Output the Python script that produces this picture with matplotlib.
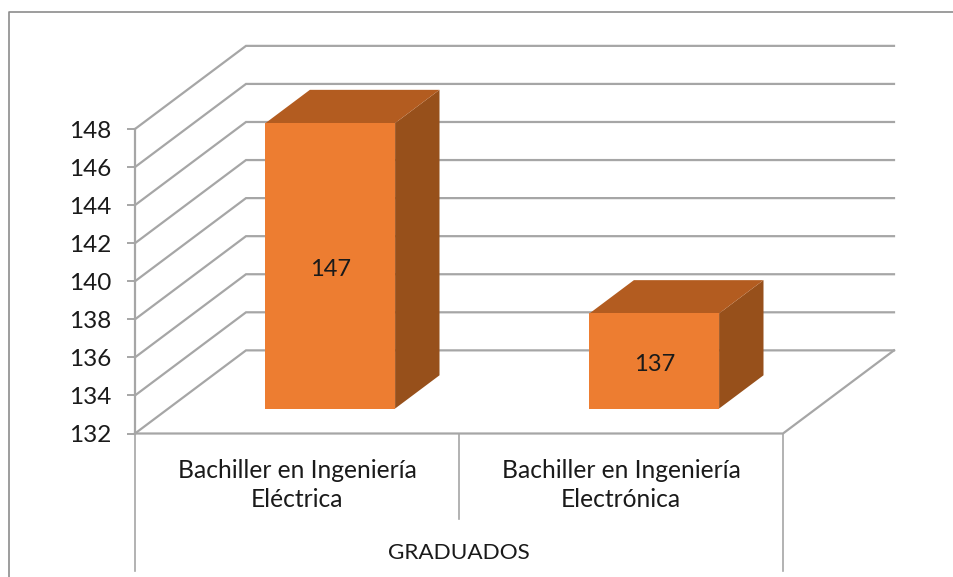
import matplotlib
matplotlib.use("Agg")
import matplotlib.pyplot as plt
from matplotlib.lines import Line2D
from matplotlib.patches import Polygon

# values
categories = ["Bachiller en Ingeniería\nEléctrica", "Bachiller en Ingeniería\nElectrónica"]
values = [147, 137]
group_label = "GRADUADOS"
y_ticks = [132, 134, 136, 138, 140, 142, 144, 146, 148]

W, H = 954, 577
GRID = "#a6a6a6"
FRONT = "#ed7d31"
TOP = "#b35c20"
SIDE = "#97501b"
TXT = "#1a1a1a"
FONT = "Lato"

plt.rcParams["font.family"] = FONT

fig = plt.figure(figsize=(W / 100, H / 100), dpi=100)
# outer frame: only top and left edges are inside the crop
fig.add_artist(Line2D([9.5 / W, 9.5 / W, 1], [0, 1 - 11.5 / H, 1 - 11.5 / H], color="#8c8c8c", lw=1.2))

# axes rectangle is the front plane of the 3d box
ax = fig.add_axes([135 / W, 1 - 433.5 / H, 648 / W, 304.5 / H])
ax.set_xlim(0, len(categories))
ax.set_ylim(132, 148)
ax.patch.set_visible(False)

# how far the back wall is shifted, in data units
DX = 111 / 324
DY = 83 / 19


def depth(x, y, d):
    return x + d * DX, y + d * DY


# walls
for v in y_ticks:
    x0, y0 = depth(0, v, 1)
    x1, y1 = depth(2, v, 1)
    ax.plot([0, x0, x1], [v, y0, y1], color=GRID, lw=1.6, clip_on=False, zorder=1, solid_joinstyle="miter")
fx, fy = depth(2, 132, 1)
ax.plot([0, 2, fx], [132, 132, fy], color=GRID, lw=1.6, clip_on=False, zorder=1)

# bars
bar_w = 0.4
d0, d1 = 0.3, 0.7
for i, v in enumerate(values):
    l = i + (1 - bar_w) / 2
    r = l + bar_w
    front = [depth(l, 132, d0), depth(r, 132, d0), depth(r, v, d0), depth(l, v, d0)]
    side = [depth(r, 132, d0), depth(r, 132, d1), depth(r, v, d1), depth(r, v, d0)]
    top = [depth(l, v, d0), depth(r, v, d0), depth(r, v, d1), depth(l, v, d1)]
    ax.add_patch(Polygon(side, fc=SIDE, ec="none", zorder=3, clip_on=False))
    ax.add_patch(Polygon(top, fc=TOP, ec="none", zorder=3, clip_on=False))
    ax.add_patch(Polygon(front, fc=FRONT, ec="none", zorder=4, clip_on=False))
    cx, cy = depth(i + 0.5, (132 + v) / 2, d0)
    ax.annotate(str(v), (cx, cy), xytext=(0, -2.5), textcoords="offset points", ha="center", va="center",
                fontsize=17, color=TXT, zorder=5)

# axis
for s in ["top", "right", "bottom"]:
    ax.spines[s].set_visible(False)
ax.spines["left"].set_color(GRID)
ax.spines["left"].set_linewidth(1.6)
ax.set_yticks(y_ticks)
ax.tick_params(axis="y", length=6, width=1.4, color=GRID, pad=11, labelsize=17.5, labelcolor=TXT)
ax.set_xticks([i + 0.5 for i in range(len(categories))])
ax.set_xticklabels(categories, fontsize=17.7, color=TXT, linespacing=1.33)
ax.tick_params(axis="x", length=0, pad=18)

# category brackets below the axis
trans = ax.get_xaxis_transform()
ax.plot([0, 0], [0, -137 / 304], color=GRID, lw=1.2, transform=trans, clip_on=False)
ax.plot([2, 2], [0, -137 / 304], color=GRID, lw=1.2, transform=trans, clip_on=False)
ax.plot([1, 1], [0, -85 / 304], color=GRID, lw=1.2, transform=trans, clip_on=False)
ax.text(1, -119 / 304, group_label, transform=trans, ha="center", va="center", fontsize=16.2, color=TXT)

fig.savefig("out.png", dpi=100)
